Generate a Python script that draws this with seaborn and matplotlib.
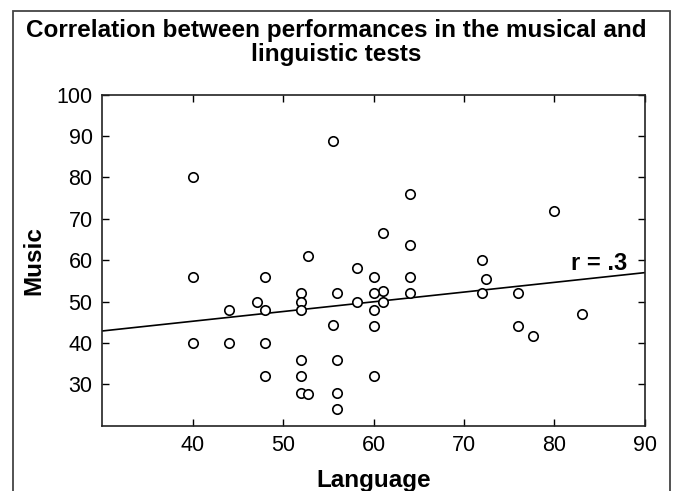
import numpy as np
import pandas as pd
import matplotlib
matplotlib.use("Agg")
import matplotlib.pyplot as plt
import seaborn as sns
from matplotlib.patches import Rectangle

# values
language = [40, 55.5, 40, 48, 52.7, 58.2, 60, 61, 64, 64, 80, 72, 64, 72.4,
            61, 52, 56, 60, 47.1, 52, 58.2, 44, 48, 52, 60, 55.5, 60, 40, 44,
            48, 52, 56, 48, 52, 60, 52, 52.7, 56, 56, 64, 72, 76, 61, 83.1,
            76, 77.6]
music = [80, 88.8, 56, 56, 61.1, 58.2, 56, 66.7, 76, 63.8, 72, 60, 56, 55.4,
         52.6, 52, 52, 52, 50, 50, 50, 48, 48, 48, 48, 44.4, 44, 40, 40, 40,
         36, 36, 32, 32, 32, 28, 27.6, 28, 24, 52, 52, 52, 50, 47.1, 44, 41.6]
# fitted line as drawn in the reference (ends at the axis limits)
fit_language = [30, 90]
fit_music = [42.9, 57.0]
x_ticks = [40, 50, 60, 70, 80, 90]
y_ticks = [30, 40, 50, 60, 70, 80, 90, 100]
r_label = "r = .3"

df = pd.DataFrame({"Language": language, "Music": music})
fit = pd.DataFrame({"Language": fit_language, "Music": fit_music})

sns.set_style("ticks")
plt.rcParams["font.family"] = ["Liberation Sans", "DejaVu Sans"]
plt.rcParams["text.color"] = "black"
plt.rcParams["axes.labelcolor"] = "black"

fig = plt.figure(figsize=(6.73, 4.91), dpi=100)
ax = fig.add_axes([0.152, 0.133, 0.806, 0.674])

sns.lineplot(data=fit, x="Language", y="Music", ax=ax, color="black",
             lw=1.2, zorder=2)
sns.scatterplot(data=df, x="Language", y="Music", ax=ax, s=46,
                facecolor="white", edgecolor="black", linewidth=1.2,
                zorder=3)

ax.set_xlim(30, 90)
ax.set_ylim(20, 100)
ax.set_xticks(x_ticks)
ax.set_yticks(y_ticks)
ax.tick_params(direction="in", length=5, width=1, top=True, right=True,
               labeltop=False, labelright=False, labelsize=15.5, pad=7,
               colors="black")
for s in ax.spines.values():
    s.set_visible(True)
    s.set_color("#222222")
    s.set_linewidth(1.2)

ax.set_xlabel("Language", fontsize=17.5, fontweight="bold", labelpad=9)
ax.set_ylabel("Music", fontsize=17.5, fontweight="bold", labelpad=8)
fig.suptitle("Correlation between performances in the musical and\nlinguistic tests",
             x=0.5, y=0.962, va="top", fontsize=17.5, fontweight="bold",
             linespacing=1.1, color="black")
ax.text(84.9, 59.1, r_label, fontsize=17, fontweight="bold",
        ha="center", va="center")

# outer frame of the original figure
fig.patches.append(Rectangle((13 / 673, -0.1), 657 / 673, 1.1 - 11 / 491,
                             transform=fig.transFigure, fill=False,
                             edgecolor="#444444", lw=1.3))

fig.savefig("out.png", dpi=100)
